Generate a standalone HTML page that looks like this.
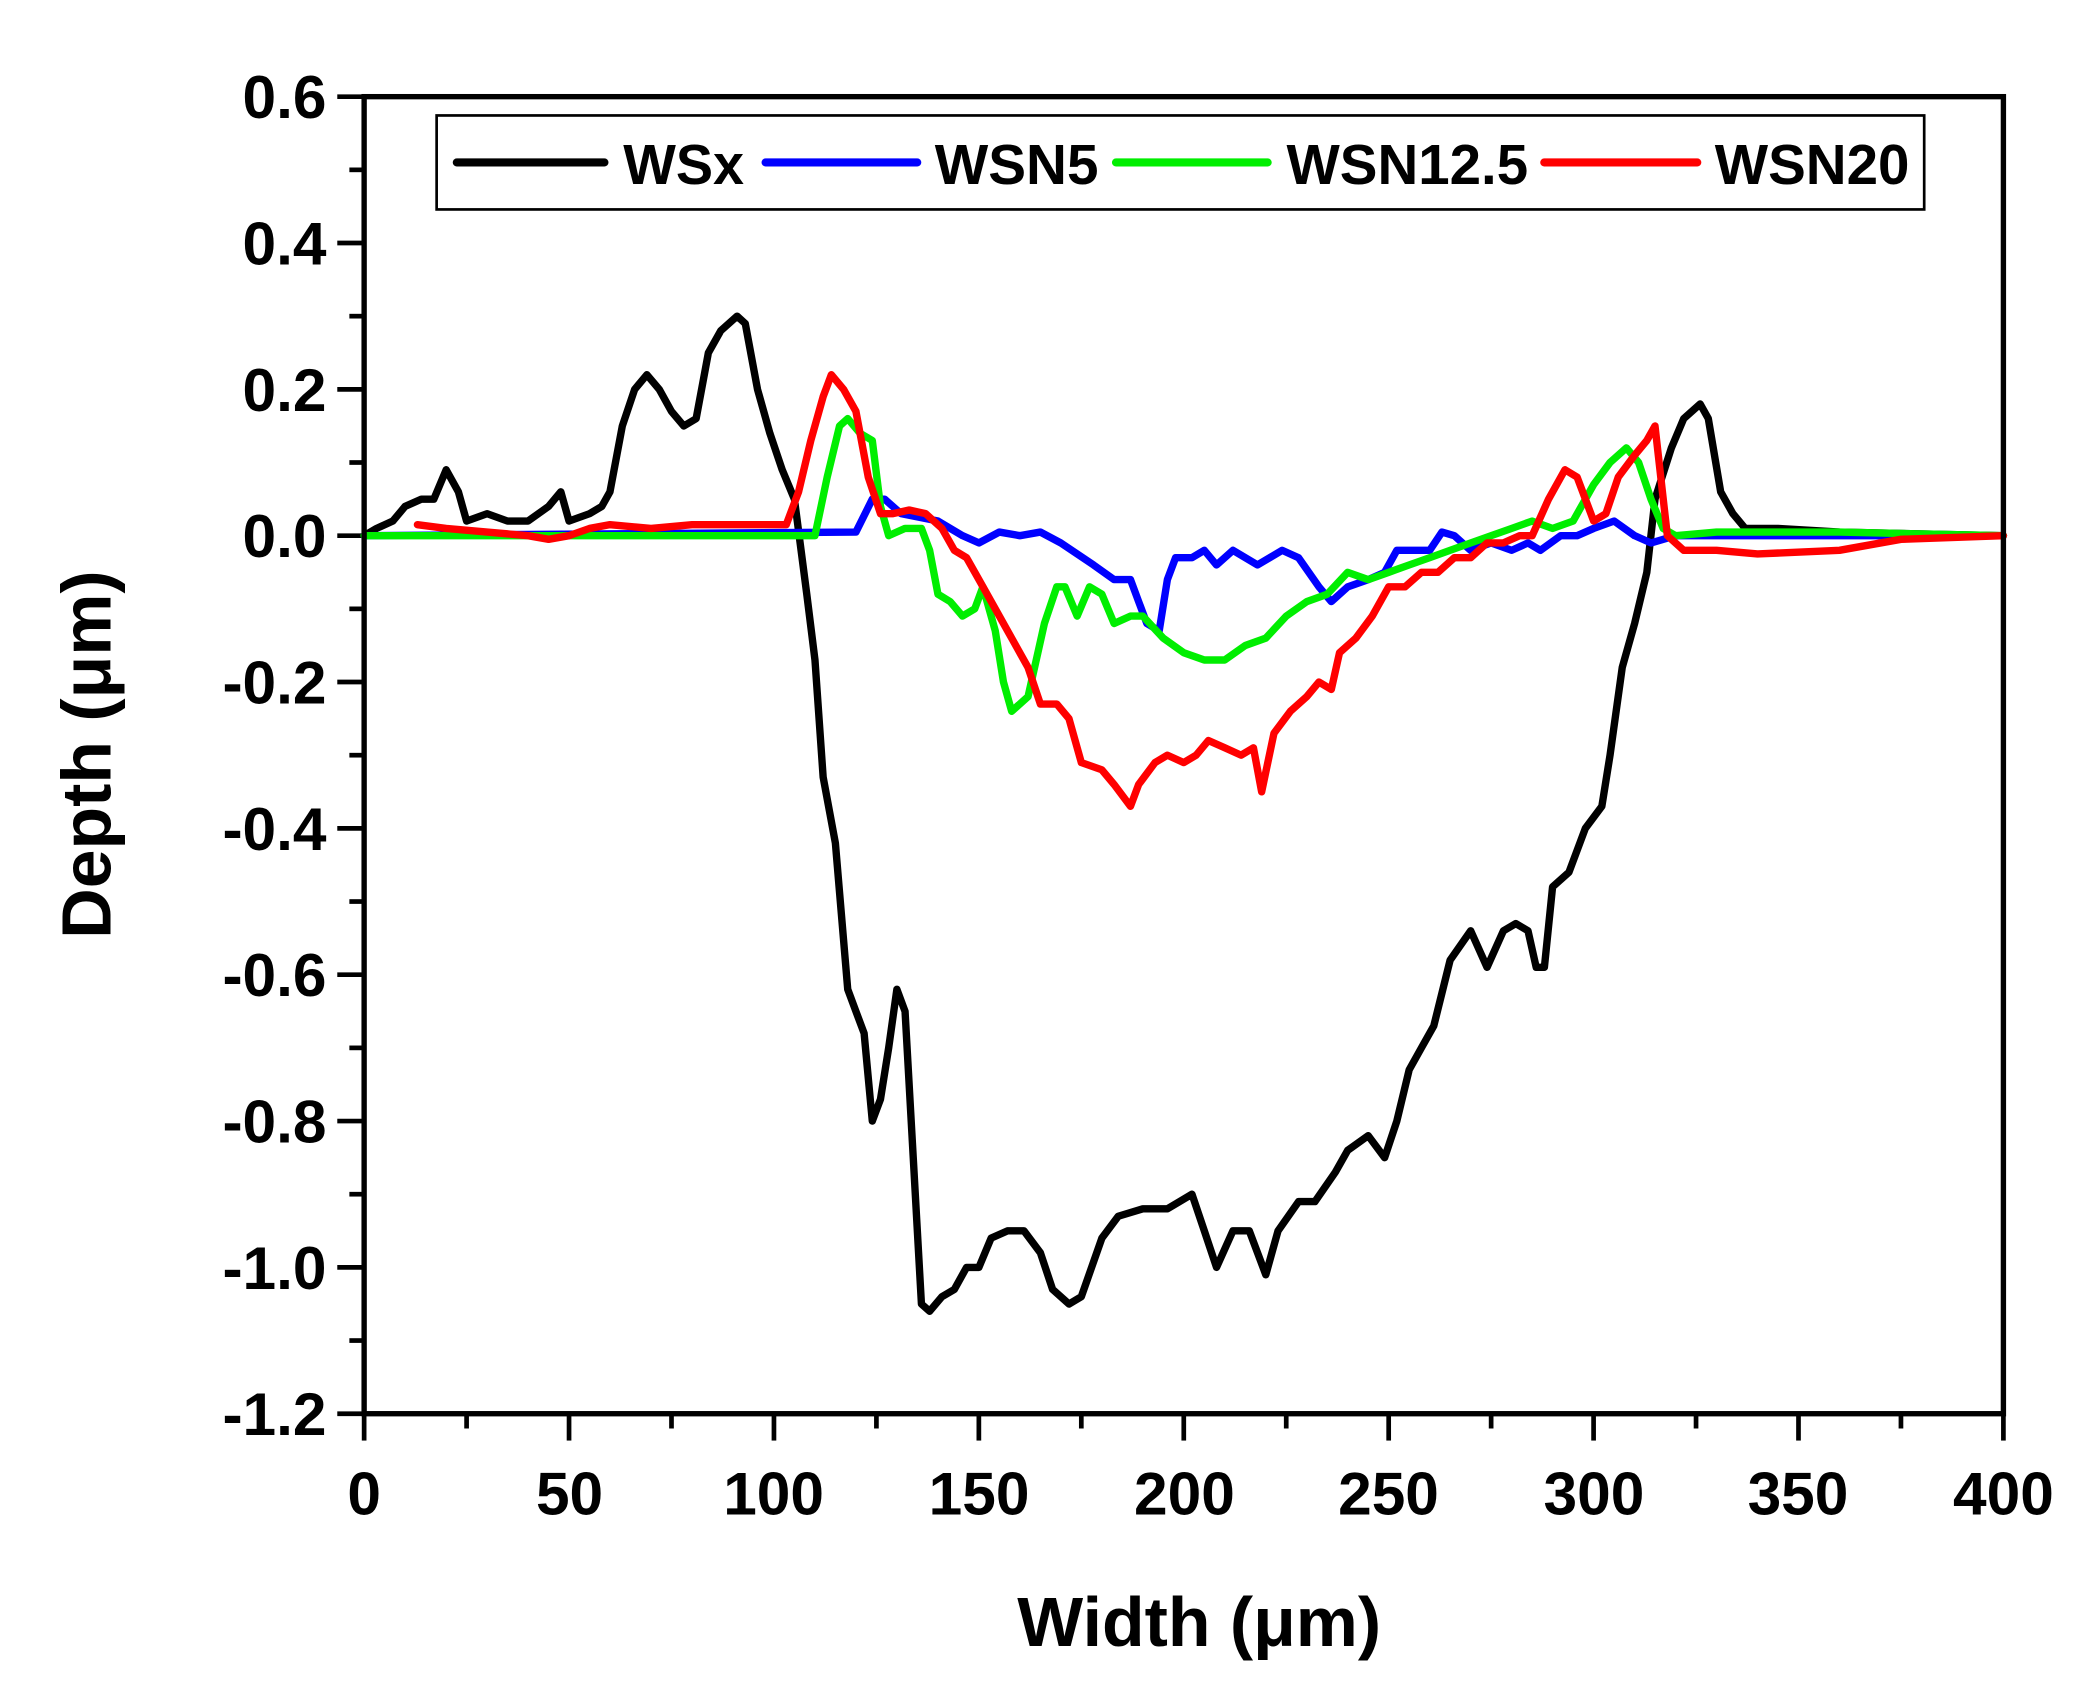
<!DOCTYPE html>
<html><head><meta charset="utf-8"><style>
html,body{margin:0;padding:0;background:#fff;}
svg{display:block;}
text{font-family:"Liberation Sans",Arial,sans-serif;font-weight:bold;fill:#000;}
</style></head><body>
<svg id="s" width="2095" height="1697" viewBox="0 0 1560 1264" xmlns="http://www.w3.org/2000/svg">
<rect x="0" y="0" width="1560" height="1264" fill="#fff"/>
<g id="ticks" stroke="#000" stroke-width="3.5"></g>
<g id="series" fill="none" stroke-width="5.5" stroke-linejoin="round" stroke-linecap="round"></g>
<rect x="271" y="72" width="1221" height="981" fill="none" stroke="#000" stroke-width="4"/>
<g font-size="45" text-anchor="end">
<text x="243" y="88">0.6</text>
<text x="243" y="197">0.4</text>
<text x="243" y="306">0.2</text>
<text x="243" y="415">0.0</text>
<text x="243" y="524">-0.2</text>
<text x="243" y="633">-0.4</text>
<text x="243" y="742">-0.6</text>
<text x="243" y="851">-0.8</text>
<text x="243" y="960">-1.0</text>
<text x="243" y="1069">-1.2</text>
</g>
<g font-size="45" text-anchor="middle">
<text x="271" y="1128">0</text>
<text x="424" y="1128">50</text>
<text x="576" y="1128">100</text>
<text x="729" y="1128">150</text>
<text x="882" y="1128">200</text>
<text x="1034" y="1128">250</text>
<text x="1187" y="1128">300</text>
<text x="1339" y="1128">350</text>
<text x="1492" y="1128">400</text>
</g>
<text x="893" y="1226" font-size="52" text-anchor="middle">Width (μm)</text>
<text transform="translate(82,562) rotate(-90)" font-size="52" text-anchor="middle">Depth (μm)</text>
<rect x="325" y="86" width="1108" height="70" fill="#fff" stroke="#000" stroke-width="2"/>
<g stroke-width="6" stroke-linecap="round">
<line x1="340" y1="121" x2="450" y2="121" stroke="#000"/>
<line x1="570" y1="121" x2="683" y2="121" stroke="#0000ff"/>
<line x1="831" y1="121" x2="944" y2="121" stroke="#00ee00"/>
<line x1="1150" y1="121" x2="1264" y2="121" stroke="#ff0000"/>
</g>
<g font-size="42">
<text x="464" y="137" textLength="90" lengthAdjust="spacingAndGlyphs">WSx</text>
<text x="696" y="137" textLength="122" lengthAdjust="spacingAndGlyphs">WSN5</text>
<text x="958" y="137" textLength="180" lengthAdjust="spacingAndGlyphs">WSN12.5</text>
<text x="1277" y="137" textLength="145" lengthAdjust="spacingAndGlyphs">WSN20</text>
</g>
</svg>
<script>
var X=function(v){return 271+v*3.0525;},Y=function(v){return 399-v*545;};
var t=document.getElementById('ticks'),h='';
for(var i=0;i<=18;i++){var v=0.6-i*0.1,y=Y(v),l=(i%2==0)?20:11;h+='<line x1="'+(271-l)+'" y1="'+y+'" x2="271" y2="'+y+'"/>';}
for(var i=0;i<=16;i++){var x=X(i*25),l=(i%2==0)?20:11;h+='<line x1="'+x+'" y1="1053" x2="'+x+'" y2="'+(1053+l)+'"/>';}
t.innerHTML=h;
var S={
"#000":[[0,0],[3,0.01],[7,0.02],[10,0.04],[14,0.05],[17,0.05],[20,0.09],[23,0.06],[25,0.02],[30,0.03],[35,0.02],[40,0.02],[45,0.04],[48,0.06],[50,0.02],[55,0.03],[58,0.04],[60,0.06],[63,0.15],[66,0.2],[69,0.22],[72,0.2],[75,0.17],[78,0.15],[81,0.16],[84,0.25],[87,0.28],[91,0.3],[93,0.29],[96,0.2],[99,0.14],[102,0.09],[105,0.05],[108,-0.08],[110,-0.17],[112,-0.33],[115,-0.42],[118,-0.62],[120,-0.65],[122,-0.68],[124,-0.8],[126,-0.77],[128,-0.7],[130,-0.62],[132,-0.65],[134,-0.85],[136,-1.05],[138,-1.06],[141,-1.04],[144,-1.03],[147,-1.0],[150,-1.0],[153,-0.96],[157,-0.95],[161,-0.95],[165,-0.98],[168,-1.03],[172,-1.05],[175,-1.04],[180,-0.96],[184,-0.93],[190,-0.92],[196,-0.92],[199,-0.91],[202,-0.9],[205,-0.95],[208,-1.0],[212,-0.95],[216,-0.95],[220,-1.01],[223,-0.95],[228,-0.91],[232,-0.91],[237,-0.87],[240,-0.84],[245,-0.82],[249,-0.85],[252,-0.8],[255,-0.73],[258,-0.7],[261,-0.67],[265,-0.58],[270,-0.54],[274,-0.59],[278,-0.54],[281,-0.53],[284,-0.54],[286,-0.59],[288,-0.59],[290,-0.48],[294,-0.46],[298,-0.4],[302,-0.37],[304,-0.3],[307,-0.18],[310,-0.12],[313,-0.05],[315,0.05],[319,0.12],[322,0.16],[326,0.18],[328,0.16],[331,0.06],[334,0.03],[337,0.01],[345,0.01],[360,0.005],[400,0]],
"#0000ff":[[0,0],[120,0.005],[124,0.05],[127,0.05],[131,0.03],[140,0.02],[146,0.0],[150,-0.01],[155,0.005],[160,0.0],[165,0.005],[170,-0.01],[178,-0.04],[183,-0.06],[187,-0.06],[189,-0.09],[191,-0.12],[194,-0.13],[196,-0.06],[198,-0.03],[202,-0.03],[205,-0.02],[208,-0.04],[212,-0.02],[218,-0.04],[224,-0.02],[228,-0.03],[233,-0.07],[236,-0.09],[240,-0.07],[245,-0.06],[249,-0.05],[252,-0.02],[256,-0.02],[260,-0.02],[263,0.005],[266,0.0],[270,-0.02],[275,-0.01],[280,-0.02],[284,-0.01],[287,-0.02],[292,0.0],[296,0.0],[300,0.01],[305,0.02],[310,0.0],[314,-0.01],[320,0.0],[400,0]],
"#00ee00":[[0,0],[110,0],[113,0.08],[116,0.15],[118,0.16],[121,0.14],[124,0.13],[126,0.04],[128,0.0],[132,0.01],[136,0.01],[138,-0.02],[140,-0.08],[143,-0.09],[146,-0.11],[149,-0.1],[151,-0.07],[154,-0.13],[156,-0.2],[158,-0.24],[162,-0.22],[166,-0.12],[169,-0.07],[171,-0.07],[174,-0.11],[177,-0.07],[180,-0.08],[183,-0.12],[187,-0.11],[190,-0.11],[195,-0.14],[200,-0.16],[205,-0.17],[210,-0.17],[215,-0.15],[220,-0.14],[225,-0.11],[230,-0.09],[235,-0.08],[240,-0.05],[245,-0.06],[250,-0.05],[255,-0.04],[260,-0.03],[265,-0.02],[270,-0.01],[275,0.0],[280,0.01],[285,0.02],[290,0.01],[295,0.02],[300,0.07],[304,0.1],[308,0.12],[311,0.1],[314,0.05],[317,0.01],[320,0.0],[330,0.005],[360,0.005],[400,0]],
"#ff0000":[[13,0.015],[20,0.01],[30,0.005],[40,0.0],[45,-0.005],[50,0.0],[55,0.01],[60,0.015],[70,0.01],[80,0.015],[90,0.015],[103,0.015],[106,0.06],[109,0.13],[112,0.19],[114,0.22],[117,0.2],[120,0.17],[123,0.08],[126,0.03],[129,0.03],[133,0.035],[137,0.03],[141,0.01],[144,-0.02],[147,-0.03],[150,-0.06],[154,-0.1],[158,-0.14],[162,-0.18],[165,-0.23],[169,-0.23],[172,-0.25],[175,-0.31],[180,-0.32],[183,-0.34],[187,-0.37],[189,-0.34],[193,-0.31],[196,-0.3],[200,-0.31],[203,-0.3],[206,-0.28],[210,-0.29],[214,-0.3],[217,-0.29],[219,-0.35],[222,-0.27],[226,-0.24],[230,-0.22],[233,-0.2],[236,-0.21],[238,-0.16],[242,-0.14],[246,-0.11],[250,-0.07],[254,-0.07],[258,-0.05],[262,-0.05],[266,-0.03],[270,-0.03],[274,-0.01],[278,-0.01],[282,0.0],[285,0.0],[289,0.05],[293,0.09],[296,0.08],[300,0.02],[303,0.03],[306,0.08],[310,0.11],[313,0.13],[315,0.15],[318,0.0],[322,-0.02],[330,-0.02],[340,-0.025],[360,-0.02],[375,-0.005],[400,0]]
};
var g=document.getElementById('series'),o='';
for(var c in S){var d=S[c].map(function(p,i){return (i?'L':'M')+X(p[0]).toFixed(1)+' '+Y(p[1]).toFixed(1);}).join('');o+='<path d="'+d+'" stroke="'+c+'"/>';}
g.innerHTML=o;
</script>
</body></html>
